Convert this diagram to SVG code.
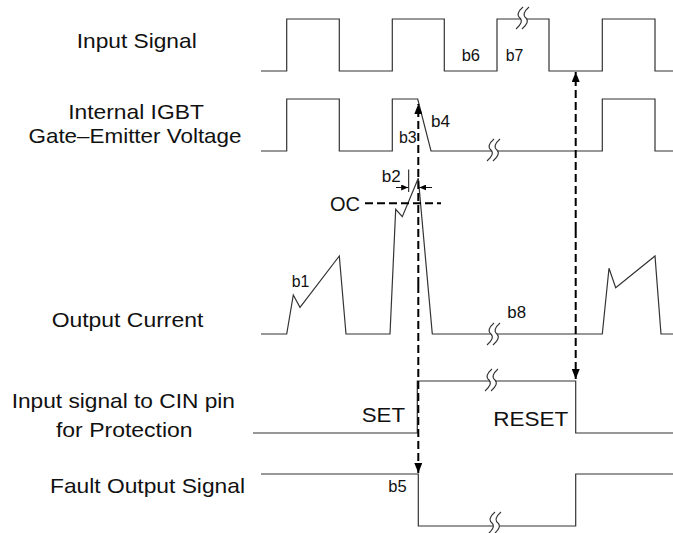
<svg xmlns="http://www.w3.org/2000/svg" xmlns:xlink="http://www.w3.org/1999/xlink" width="673" height="533" viewBox="0 0 673 533">
<style>
.w{fill:none;stroke:#333;stroke-width:1.2;stroke-linejoin:miter}
.lbl{font-family:"Liberation Sans",Arial,sans-serif;font-size:21px;fill:#111}
.sm{font-family:"Liberation Sans",Arial,sans-serif;font-size:16px;fill:#111}
.dash{fill:none;stroke:#000;stroke-width:2;stroke-dasharray:8,4}
.thin{fill:none;stroke:#111;stroke-width:1}
</style>
<defs>
<marker id="ah" markerWidth="10" markerHeight="8" refX="10" refY="4" orient="auto" markerUnits="userSpaceOnUse">
<path d="M0,0 L10,4 L0,8 Z" fill="#000"/>
</marker>
<marker id="sa" markerWidth="7" markerHeight="6" refX="7" refY="3" orient="auto" markerUnits="userSpaceOnUse">
<path d="M0,0 L7,3 L0,6 Z" fill="#000"/>
</marker>
<g id="brk">
<path d="M4,-11 Q-4,-4 1,0 Q5,4 -3,11 L3,11 Q11,4 7,0 Q2,-4 10,-11 Z" fill="#fff"/>
<path d="M4,-11 Q-4,-4 1,0 Q5,4 -3,11 M10,-11 Q2,-4 7,0 Q11,4 3,11" fill="none" stroke="#333" stroke-width="1.1"/>
</g>
</defs>
<rect width="673" height="533" fill="#fff"/>

<g id="input-signal">
<text class="lbl" x="136.7" y="48.3" text-anchor="middle" textLength="120" lengthAdjust="spacingAndGlyphs">Input Signal</text>
<path class="w" d="M261,71 H286.7 V19 H339.3 V71 H392.3 V19 H444.3 V71 H497 V19 H549 V71 H602.3 V19 H655 V71 H673"/>
<use xlink:href="#brk" x="519" y="18"/>
<text class="sm" x="461.7" y="60.7" textLength="18.3" lengthAdjust="spacingAndGlyphs">b6</text>
<text class="sm" x="505.7" y="60.7" textLength="17.6" lengthAdjust="spacingAndGlyphs">b7</text>
</g>

<g id="igbt-gate">
<text class="lbl" x="136" y="119" text-anchor="middle" textLength="135.7" lengthAdjust="spacingAndGlyphs">Internal IGBT</text>
<text class="lbl" x="135" y="143.3" text-anchor="middle" textLength="213" lengthAdjust="spacingAndGlyphs">Gate–Emitter Voltage</text>
<path class="w" d="M261,151 H286.7 V99 H339.3 V151 H392.3 V99 H417.7 L431,151 H602.3 V99 H655 V151 H673"/>
<use xlink:href="#brk" x="490" y="150"/>
<text class="sm" x="431" y="126.7" textLength="19" lengthAdjust="spacingAndGlyphs">b4</text>
<text class="sm" x="399" y="143.3" textLength="17.7" lengthAdjust="spacingAndGlyphs">b3</text>
</g>

<g id="output-current">
<text class="lbl" x="127.5" y="326.7" text-anchor="middle" textLength="151.7" lengthAdjust="spacingAndGlyphs">Output Current</text>
<path class="w" d="M261,334 H286.7 L293.3,295 L300,307.3 L339.3,256 L346,334 H390 L395.7,209.3 L402.3,216.7 L418.3,178.3 L432.3,334 H602.3 L609,268.3 L615.7,287.7 L655,256 L661,334 H673"/>
<use xlink:href="#brk" x="490" y="334"/>
<text class="sm" x="291.7" y="286.7" textLength="17.6" lengthAdjust="spacingAndGlyphs">b1</text>
<text class="sm" x="507.3" y="318.3" textLength="18.7" lengthAdjust="spacingAndGlyphs">b8</text>
<text class="sm" x="381.7" y="181.7" textLength="19" lengthAdjust="spacingAndGlyphs">b2</text>
<text class="lbl" x="330" y="210.7" textLength="30" lengthAdjust="spacingAndGlyphs">OC</text>
<line class="dash" x1="365" y1="203.3" x2="441" y2="203.3"/>
<line class="thin" x1="408.7" y1="169.5" x2="408.7" y2="192"/>
<line class="thin" x1="396" y1="187.5" x2="408.2" y2="187.5" marker-end="url(#sa)"/>
<line class="thin" x1="432" y1="187.5" x2="419.3" y2="187.5" marker-end="url(#sa)"/>
</g>

<g id="cin-input">
<text class="lbl" x="123.3" y="408.3" text-anchor="middle" textLength="223.3" lengthAdjust="spacingAndGlyphs">Input signal to CIN pin</text>
<text class="lbl" x="124.3" y="436.7" text-anchor="middle" textLength="136.7" lengthAdjust="spacingAndGlyphs">for Protection</text>
<path class="w" d="M253,433 H417.3 V381 H575.7 V433 H673"/>
<use xlink:href="#brk" x="488" y="380"/>
<text class="lbl" x="361.7" y="422" textLength="43.3" lengthAdjust="spacingAndGlyphs">SET</text>
<text class="lbl" x="493.3" y="426" textLength="75" lengthAdjust="spacingAndGlyphs">RESET</text>
</g>

<g id="fault-output">
<text class="lbl" x="147.5" y="493.3" text-anchor="middle" textLength="195" lengthAdjust="spacingAndGlyphs">Fault Output Signal</text>
<path class="w" d="M261,474 H418.3 V526 H575.7 V474 H673"/>
<use xlink:href="#brk" x="491" y="523"/>
<text class="sm" x="388.3" y="491.7" textLength="18.4" lengthAdjust="spacingAndGlyphs">b5</text>
</g>

<g id="connectors">
<line class="dash" x1="418.3" y1="285" x2="418.3" y2="104" marker-end="url(#ah)"/>
<line class="dash" x1="418.3" y1="285" x2="418.3" y2="473" marker-end="url(#ah)"/>
<line class="dash" x1="575.7" y1="230" x2="575.7" y2="72" marker-end="url(#ah)"/>
<line class="dash" x1="575.7" y1="230" x2="575.7" y2="379" marker-end="url(#ah)"/>
</g>
</svg>
